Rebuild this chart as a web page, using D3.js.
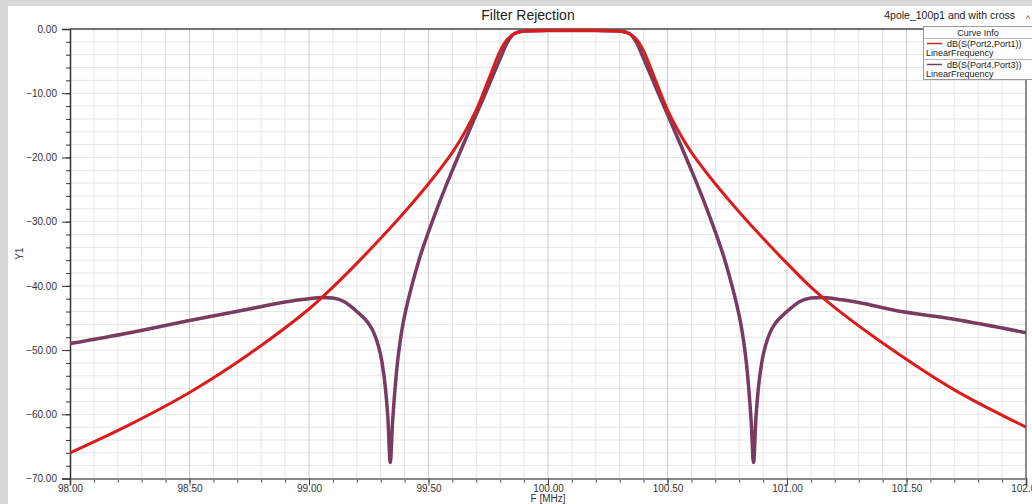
<!DOCTYPE html>
<html>
<head>
<meta charset="utf-8">
<script src="https://cdn.jsdelivr.net/npm/d3@7"></script>
<style>
  body { margin: 0; background: #d8d8d8; }
  svg { display: block; font-family: "Liberation Sans", Arial, sans-serif; }
</style>
</head>
<body>
<div id="chart"></div>
<script>
// dB(S(Port2,Port1)) - frequency (MHz) and level (dB)
var freqS21 = [98.00, 98.25, 98.50, 98.75, 99.00, 99.10, 99.20, 99.30, 99.40, 99.50,
  99.60, 99.65, 99.70, 99.75, 99.80, 99.83, 99.86, 99.90, 100.00, 100.10,
  100.20, 100.30, 100.34, 100.37, 100.40, 100.45, 100.50, 100.55, 100.60, 100.70,
  100.80, 100.90, 101.00, 101.10, 101.20, 101.45, 101.70, 102.00];
var s21 = [-66.0, -61.6, -56.6, -50.6, -43.6, -40.2, -36.5, -32.6, -28.5, -24.1,
  -19.2, -16.2, -12.6, -8.0, -3.4, -1.6, -0.7, -0.35, -0.25, -0.25,
  -0.25, -0.35, -0.7, -1.6, -3.4, -8.0, -12.6, -16.2, -19.2, -24.1,
  -28.5, -32.6, -36.5, -40.2, -43.4, -50.2, -56.2, -62.0];

// dB(S(Port4,Port3)) - frequency (MHz) and level (dB)
var freqS43 = [98.00, 98.25, 98.50, 98.75, 98.90, 99.00, 99.05, 99.10, 99.15, 99.20,
  99.25, 99.27, 99.29, 99.305, 99.32, 99.33, 99.34, 99.35, 99.36, 99.37,
  99.38, 99.39, 99.41, 99.43, 99.46, 99.50, 99.55, 99.60, 99.65, 99.70,
  99.75, 99.80, 99.83, 99.86, 99.90, 100.00, 100.10, 100.20, 100.30, 100.34,
  100.37, 100.40, 100.45, 100.50, 100.55, 100.60, 100.65, 100.70, 100.74, 100.77,
  100.79, 100.81, 100.82, 100.83, 100.84, 100.85, 100.86, 100.87, 100.88, 100.895,
  100.91, 100.93, 100.95, 101.00, 101.05, 101.10, 101.15, 101.20, 101.30, 101.45,
  101.70, 102.00];
var s43 = [-49.0, -47.3, -45.4, -43.6, -42.5, -42.0, -41.8, -41.9, -42.5, -44.0,
  -45.9, -47.2, -49.3, -51.8, -56.0, -60.5, -67.5, -61.0, -56.0, -52.0,
  -49.0, -46.6, -43.0, -40.0, -36.0, -31.6, -26.6, -22.0, -17.6, -13.3,
  -9.0, -4.6, -2.1, -0.7, -0.3, -0.25, -0.25, -0.25, -0.3, -0.7,
  -2.1, -4.6, -9.0, -13.3, -17.6, -22.0, -26.6, -31.6, -36.0, -40.0,
  -43.0, -46.6, -49.0, -52.0, -56.0, -61.0, -67.5, -60.5, -56.0, -51.8,
  -49.3, -47.2, -45.9, -44.0, -42.5, -41.9, -41.8, -42.0, -42.6, -43.8,
  -45.2, -47.3];

var xTicks = [98.0, 98.5, 99.0, 99.5, 100.0, 100.5, 101.0, 101.5, 102.0];
var yTicks = [0, -10, -20, -30, -40, -50, -60, -70];

var seriesNames = ["dB(S(Port2,Port1))", "dB(S(Port4,Port3))"];
var seriesColors = ["#dc1c1c", "#7a3b60"];

var svgWidth = 1032, svgHeight = 504;
var plotLeft = 70, plotRight = 1026, plotTop = 29, plotBottom = 478.5;

var svg = d3.select("#chart").append("svg")
  .attr("width", svgWidth)
  .attr("height", svgHeight);

// white panel
svg.append("rect")
  .attr("x", 8).attr("y", 6)
  .attr("width", svgWidth - 8).attr("height", svgHeight - 6)
  .attr("fill", "#ffffff");

var xScale = d3.scaleLinear().domain([98, 102]).range([plotLeft, plotRight]);
var yScale = d3.scaleLinear().domain([-70, 0]).range([plotBottom, plotTop]);

// grid
var grid = svg.append("g");
grid.selectAll("line.hg")
  .data(d3.range(-68, 0, 2))
  .enter().append("line")
  .attr("x1", plotLeft).attr("x2", plotRight)
  .attr("y1", d => yScale(d)).attr("y2", d => yScale(d))
  .attr("stroke", "#e6e6e6").attr("stroke-width", 1);

grid.selectAll("line.vg")
  .data(d3.range(1, 40))
  .enter().append("line")
  .attr("x1", d => xScale(98 + d / 10)).attr("x2", d => xScale(98 + d / 10))
  .attr("y1", plotTop).attr("y2", plotBottom)
  .attr("stroke", d => d % 5 === 0 ? "#cdcdcd" : "#e6e6e6")
  .attr("stroke-width", 1);

// axes
var xAxis = d3.axisBottom(xScale)
  .tickValues(xTicks)
  .tickFormat(d3.format(".2f"))
  .tickSize(7);
var xMinor = d3.axisBottom(xScale)
  .tickValues(d3.range(1, 40).map(d => 98 + d / 10))
  .tickFormat("")
  .tickSize(4);

var gx = svg.append("g")
  .attr("transform", `translate(0, ${plotBottom})`)
  .call(xMinor);
gx.select(".domain").remove();
gx.selectAll("line").attr("stroke", "#444");

var gx2 = svg.append("g")
  .attr("transform", `translate(0, ${plotBottom})`)
  .call(xAxis);
gx2.select(".domain").attr("stroke", "#888").attr("stroke-width", 2);
gx2.selectAll("line").attr("stroke", "#444");
gx2.selectAll("text")
  .attr("font-size", "10px")
  .attr("fill", "#333")
  .attr("y", 6)
  .attr("dy", "0.75em");

var yMinor = d3.axisLeft(yScale)
  .tickValues(d3.range(-68, 0, 2))
  .tickFormat("")
  .tickSize(4);
var yAxis = d3.axisLeft(yScale)
  .tickValues(yTicks)
  .tickFormat(d3.format(".2f"))
  .tickSize(8);

var gy = svg.append("g")
  .attr("transform", `translate(${plotLeft}, 0)`)
  .call(yMinor);
gy.select(".domain").remove();
gy.selectAll("line").attr("stroke", "#333");

var gy2 = svg.append("g")
  .attr("transform", `translate(${plotLeft}, 0)`)
  .call(yAxis);
gy2.select(".domain").attr("stroke", "#333").attr("stroke-width", 1.5);
gy2.selectAll("line").attr("stroke", "#333");
gy2.selectAll("text")
  .attr("font-size", "10px")
  .attr("fill", "#333")
  .attr("x", -13);

// frame top / right
svg.append("line")
  .attr("x1", plotLeft).attr("x2", plotRight)
  .attr("y1", plotTop).attr("y2", plotTop)
  .attr("stroke", "#444").attr("stroke-width", 1.5);
svg.append("line")
  .attr("x1", plotRight).attr("x2", plotRight)
  .attr("y1", plotTop).attr("y2", plotBottom)
  .attr("stroke", "#666").attr("stroke-width", 1.5);

// curves
svg.append("clipPath").attr("id", "plotClip")
  .append("rect")
  .attr("x", plotLeft).attr("y", plotTop - 2)
  .attr("width", plotRight - plotLeft).attr("height", plotBottom - plotTop + 2);

var lineS21 = d3.line()
  .x((d, i) => xScale(freqS21[i]))
  .y(d => yScale(d))
  .curve(d3.curveCatmullRom.alpha(0.5));

var lineS43 = d3.line()
  .x((d, i) => xScale(freqS43[i]))
  .y(d => yScale(d))
  .curve(d3.curveMonotoneX);

var curves = svg.append("g").attr("clip-path", "url(#plotClip)");
curves.append("path")
  .attr("d", lineS43(s43))
  .attr("fill", "none")
  .attr("stroke", seriesColors[1])
  .attr("stroke-width", 3.5);
curves.append("path")
  .attr("d", lineS21(s21))
  .attr("fill", "none")
  .attr("stroke", seriesColors[0])
  .attr("stroke-width", 3);

// titles
svg.append("text")
  .attr("x", 528).attr("y", 20)
  .attr("text-anchor", "middle")
  .attr("font-size", "14px")
  .attr("fill", "#222")
  .text("Filter Rejection");

svg.append("text")
  .attr("x", 1015).attr("y", 19)
  .attr("text-anchor", "end")
  .attr("font-size", "10.5px")
  .attr("fill", "#222")
  .text("4pole_100p1 and with cross");

svg.append("text")
  .attr("x", 1026).attr("y", 22)
  .attr("font-size", "9px")
  .attr("fill", "#b03030")
  .text("^");

svg.append("text")
  .attr("transform", `translate(23, ${(plotTop + plotBottom) / 2}) rotate(-90)`)
  .attr("text-anchor", "middle")
  .attr("font-size", "10px")
  .attr("fill", "#444")
  .text("Y1");

svg.append("text")
  .attr("x", (plotLeft + plotRight) / 2).attr("y", 502)
  .attr("text-anchor", "middle")
  .attr("font-size", "10px")
  .attr("fill", "#333")
  .text("F [MHz]");

// legend
var lg = svg.append("g");
lg.append("rect")
  .attr("x", 923.5).attr("y", 26.5)
  .attr("width", 120).attr("height", 53)
  .attr("fill", "#fff").attr("stroke", "#999");
lg.append("text")
  .attr("x", 978).attr("y", 35.5)
  .attr("text-anchor", "middle")
  .attr("font-size", "9px").attr("fill", "#222")
  .text("Curve Info");
lg.append("line")
  .attr("x1", 923.5).attr("x2", 1032).attr("y1", 38.5).attr("y2", 38.5)
  .attr("stroke", "#bbb");
lg.append("line")
  .attr("x1", 923.5).attr("x2", 1032).attr("y1", 59.5).attr("y2", 59.5)
  .attr("stroke", "#bbb");

seriesNames.forEach(function(name, i) {
  var y0 = 46.5 + i * 21;
  lg.append("line")
    .attr("x1", 927).attr("x2", 942)
    .attr("y1", y0 - 3).attr("y2", y0 - 3)
    .attr("stroke", seriesColors[i]).attr("stroke-width", 1.5);
  lg.append("text")
    .attr("x", 947).attr("y", y0)
    .attr("font-size", "9px").attr("fill", "#222")
    .text(name);
  lg.append("text")
    .attr("x", 926).attr("y", y0 + 9)
    .attr("font-size", "9px").attr("fill", "#222")
    .text("LinearFrequency");
});
</script>
</body>
</html>
